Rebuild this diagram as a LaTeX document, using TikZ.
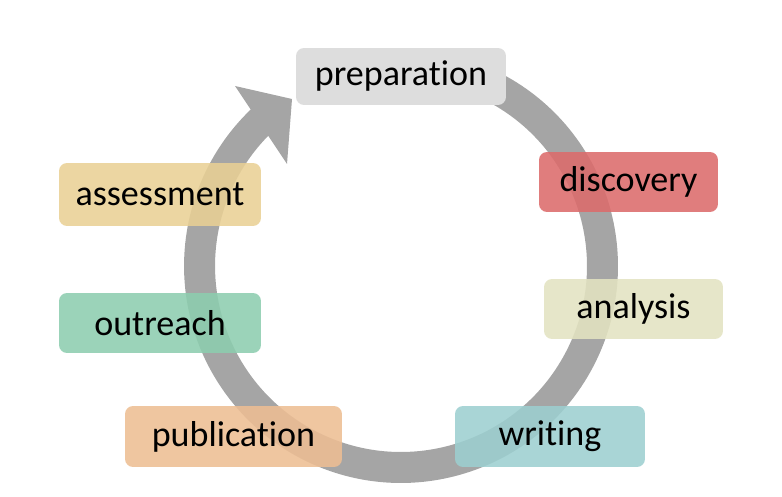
\documentclass[tikz,border=0pt]{standalone}
\usepackage{fontspec}
\setmainfont[Ligatures=NoCommon]{Carlito}
\usepackage{xcolor}
\usepackage{tikz}
\usetikzlibrary{calc}
\definecolor{ringgray}{RGB}{165,165,165}
\definecolor{prepgray}{RGB}{221,221,221}
\definecolor{discred}{RGB}{220,107,107}
\definecolor{analcream}{RGB}{227,227,193}
\definecolor{writteal}{RGB}{157,207,208}
\definecolor{publpeach}{RGB}{237,190,147}
\definecolor{outrgreen}{RGB}{141,205,175}
\definecolor{assesand}{RGB}{233,208,149}

\begin{document}
\begin{tikzpicture}[x=0.02cm, y=0.02cm,
		stage/.style={rectangle, rounded corners=0.16cm, inner sep=0pt, minimum height=1.2cm, fill opacity=0.88, text opacity=1, font=\fontsize{20.5}{24}\selectfont}]
		\useasboundingbox (0, 0) rectangle (782, 497);
		\coordinate (c) at (401, 231);

		\draw[ringgray, line width=0.62cm] ($(c)+(62:4.03cm)$) arc[start angle=62, end angle=-228, radius=4.03cm];
		\fill[ringgray] (235, 411) -- (292, 398) -- (287, 333) -- cycle;

		\node[stage, fill=prepgray, fill opacity=1, minimum width=4.2cm, minimum height=1.14cm] (prep) at (401, 420.5) {preparation};
		\node[stage, fill=discred, minimum width=3.58cm] (disc) at (628.5, 315) {discovery};
		\node[stage, fill=analcream, minimum width=3.58cm] (anal) at (633.5, 188) {analysis};
		\node[stage, fill=writteal, minimum width=3.8cm, minimum height=1.22cm] (writ) at (550, 60.5) {writing};
		\node[stage, fill=publpeach, minimum width=4.34cm, minimum height=1.22cm] (publ) at (233.5, 60.5) {publication};
		\node[stage, fill=outrgreen, minimum width=4.04cm] (outr) at (160, 174) {outreach};
		\node[stage, fill=assesand, minimum width=4.04cm, minimum height=1.26cm] (asse) at (160, 302.5) {assessment};
	\end{tikzpicture}
\end{document}
